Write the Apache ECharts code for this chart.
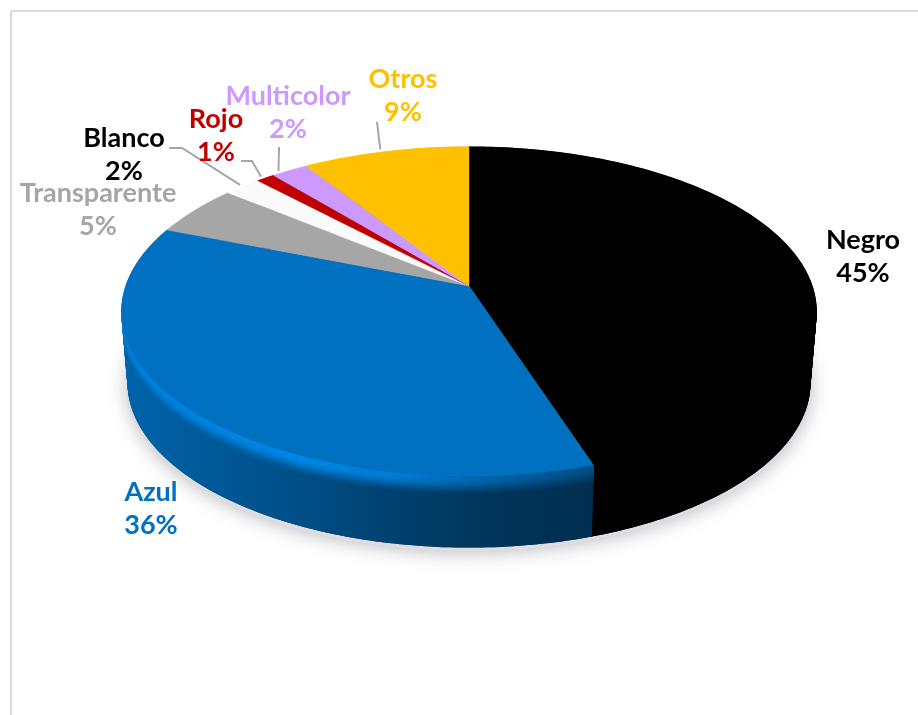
<!DOCTYPE html>
<html>
<head>
<meta charset="utf-8">
<style>html,body{margin:0;padding:0;background:#fff}#chart{width:918px;height:715px}</style>
<script src="https://cdn.jsdelivr.net/npm/echarts@6/dist/echarts.min.js"></script>
</head>
<body>
<div id="chart"></div>
<script>
// Colour shares, clockwise from twelve o'clock
const categories = ['Negro', 'Azul', 'Transparente', 'Blanco', 'Rojo', 'Multicolor', 'Otros'];
const shares = [45, 36, 5, 2, 1, 2, 9];
const sliceColors = ['#000000', '#0070c0', '#a6a6a6', '#fafafa', '#c00000', '#cc99ff', '#ffc000'];
const labelColors = ['#000000', '#0070c0', '#a6a6a6', '#000000', '#c00000', '#cc99ff', '#ffc000'];

// Label centres, in pixels
const labelX = [863, 151, 98, 124, 216, 288, 403];
const labelY = [257, 509, 210, 155, 136, 113, 96];

// Leader elbows from a label to the rim; rim point given as a cumulative share
const leaderPaths = [null, null, null, [[169, 148], [182, 148]], [[241, 161], [252, 161]], [[279, 147]], [[377, 122]]];
const leaderRimShare = [null, null, null, 86.8, 88.2, 89.3, 95.2];

// Perspective disc: apex, half width, and the projective terms of the tilt
const apexX = 469, apexY = 286, halfWidth = 343;
const tiltA = 116.2, tiltC = -0.155;
const depth = 71, depthShrink = 0.018;

function project(share, d) {
  const th = share / 100 * Math.PI * 2;
  const u = Math.sin(th), v = -Math.cos(th);
  const den = tiltC * v + 1;
  const k = 1 - depthShrink * d / depth;
  return [apexX + halfWidth * u / den * k, (tiltA * v + apexY) / den + d];
}

const starts = [];
shares.reduce((acc, s, i) => { starts[i] = acc; return acc + s; }, 0);

function arc(from, to, d) {
  const n = Math.max(2, Math.ceil((to - from) * 4));
  const pts = [];
  for (let i = 0; i <= n; i++) pts.push(project(from + (to - from) * i / n, d));
  return pts;
}

function rgb(hex) {
  return [1, 3, 5].map(i => parseInt(hex.substr(i, 2), 16));
}
function css(c) { return 'rgb(' + c.map(x => Math.round(Math.min(255, x))).join(',') + ')'; }
function blendColor(a, b, t) { return a.map((x, i) => x + (b[i] - x) * t); }

// Side wall brightness across the width, and the rim highlight above it
const shadeX = [130, 200, 300, 400, 500, 590, 820];
const shadeWall = [0.88, 0.80, 0.70, 0.57, 0.46, 0.42, 0.42];
const shadeGlow = [1.12, 1.16, 1.2, 1.1, 0.85, 0.7, 0.7];
const bevel = 17;

function wallFill(color, d) {
  const base = rgb(color);
  const t = Math.min(1, d / bevel);
  const smooth = t * t * (3 - 2 * t);
  const stops = shadeX.map((x, i) => {
    const wall = base.map(c => c * shadeWall[i]);
    const glow = base.map(c => c * shadeGlow[i]);
    return { offset: (x - shadeX[0]) / (shadeX[6] - shadeX[0]), color: css(blendColor(glow, wall, smooth)) };
  });
  return new echarts.graphic.LinearGradient(shadeX[0], 0, shadeX[6], 0, stops, true);
}

// The wall is swept in thin strips, deepest first, so its outline stays straight at the sides
function wallItem(params) {
  const i = params.dataIndex;
  const from = starts[i], to = from + shares[i];
  const children = [];
  for (let d = depth - 1; d >= 0; d -= d > bevel ? 2 : 1) {
    const pts = arc(from, to, d).concat(arc(from, to, Math.min(depth, d + 3)).reverse());
    const paint = wallFill(sliceColors[i], d);
    children.push({ type: 'polygon', shape: { points: pts }, style: { fill: paint, stroke: paint, lineWidth: 1.2 } });
  }
  return { type: 'group', children };
}

function faceItem(params) {
  const i = params.dataIndex;
  const from = starts[i], to = from + shares[i];
  const pts = [[apexX, apexY]].concat(arc(from, to, 0));
  return { type: 'polygon', shape: { points: pts }, style: { fill: sliceColors[i], stroke: sliceColors[i], lineWidth: 0.4 } };
}

// The soft shadow is one disc under the whole pie
function shadowItem() {
  return {
    type: 'polygon', shape: { points: arc(0, 100, depth + 4) },
    style: { fill: '#dedee2', shadowBlur: 20, shadowColor: 'rgba(170,170,178,0.9)' }
  };
}

function labelItem(params) {
  const i = params.dataIndex;
  const children = [{
    type: 'text',
    style: {
      text: categories[i] + '\n' + shares[i] + '%',
      x: labelX[i], y: labelY[i],
      fill: labelColors[i],
      font: 'bold 27px Lato',
      lineHeight: 33,
      align: 'center',
      verticalAlign: 'middle'
    }
  }];
  if (leaderPaths[i]) {
    const rim = project(leaderRimShare[i], 0);
    children.unshift({
      type: 'polyline',
      shape: { points: leaderPaths[i].concat([[rim[0], rim[1] - 3]]) },
      style: { stroke: '#a6a6a6', lineWidth: 2, fill: 'none' }
    });
  }
  return { type: 'group', children };
}

function layer(render, z, data) {
  return {
    type: 'custom', coordinateSystem: 'none', renderItem: render,
    data: data, z, silent: true, clip: false, animation: false
  };
}

const chart = echarts.init(document.getElementById('chart'), null, { renderer: 'canvas' });
chart.setOption({
  animation: false,
  backgroundColor: '#ffffff',
  tooltip: { show: false },
  graphic: [
    { type: 'line', shape: { x1: 11, y1: 11, x2: 918, y2: 11 }, style: { stroke: '#d9d9d9', lineWidth: 2 } },
    { type: 'line', shape: { x1: 11, y1: 11, x2: 11, y2: 715 }, style: { stroke: '#d9d9d9', lineWidth: 2 } }
  ],
  series: [layer(shadowItem, 1, [100]), layer(wallItem, 2, shares), layer(faceItem, 3, shares), layer(labelItem, 4, shares)]
});
</script>
</body>
</html>
